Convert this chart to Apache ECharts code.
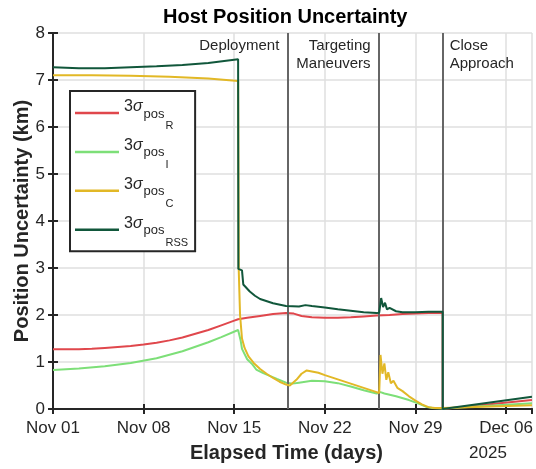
<!DOCTYPE html>
<html>
<head>
<meta charset="utf-8">
<script src="https://cdn.jsdelivr.net/npm/echarts@6/dist/echarts.min.js"></script>
<style>
html,body{margin:0;padding:0;background:#fff}
#chart{width:536px;height:469px}
</style>
</head>
<body>
<div id="chart"></div>
<script>
// days elapsed since Nov 01 2025
var tickLabels = ['Nov 01', 'Nov 08', 'Nov 15', 'Nov 22', 'Nov 29', 'Dec 06'];
var seriesNames = ['R', 'I', 'C', 'RSS'];
var seriesColors = ['#e0474c', '#7ddf78', '#e2b826', '#11573b'];

// phase boundaries (days)
var phaseDays = [18.1, 25.15, 30.1];
var phaseText = ['Deployment', 'Targeting\nManeuvers', 'Close\nApproach'];

var radial = [[0,1.27],[1,1.27],[2,1.27],[3,1.28],[4,1.30],[5,1.32],[6,1.34],[7,1.37],[8,1.41],
  [9,1.46],[10,1.52],[11,1.60],[12,1.68],[13,1.78],[14,1.88],[14.3,1.91],[15,1.94],[16,1.98],
  [17,2.02],[18,2.04],[18.6,2.03],[19.2,1.98],[20,1.95],[21,1.94],[22,1.94],[23,1.95],[24,1.97],
  [25,1.99],[26,2.00],[27,2.02],[28,2.03],[29,2.04],[30.1,2.05],[30.1,0],[37,0.19]];

var intrack = [[0,0.83],[2,0.86],[4,0.91],[6,0.98],[8,1.08],[10,1.23],[12,1.42],[13,1.53],
  [14.3,1.68],[14.5,1.45],[14.6,1.28],[15,1.06],[15.4,0.95],[15.7,0.84],[16.2,0.77],[16.7,0.71],
  [17.3,0.64],[18,0.56],[18.5,0.54],[19,0.56],[19.5,0.58],[20,0.60],[21,0.59],[22,0.55],[23,0.48],
  [24,0.40],[25,0.33],[25.3,0.36],[25.6,0.33],[26.5,0.27],[27.5,0.19],[28.2,0.12],[28.8,0.05],
  [29.3,0.02],[30.1,0.01],[30.1,0],[37,0.12]];

var crosstrack = [[0,7.10],[3,7.10],[6,7.09],[9,7.07],[12,7.03],[14.3,6.98],[14.35,2.95],[14.45,2.0],
  [14.6,1.5],[14.8,1.3],[15.1,1.12],[15.5,0.98],[16,0.85],[16.5,0.75],[17,0.66],[17.5,0.58],[18,0.52],
  [18.3,0.50],[18.8,0.62],[19.2,0.75],[19.6,0.82],[20,0.80],[20.5,0.77],[21,0.72],[22,0.63],[23,0.54],
  [24,0.45],[25,0.36],[25.2,0.34],[25.3,1.15],[25.45,0.75],[25.6,0.97],[25.75,0.62],[25.9,0.78],
  [26.1,0.55],[26.3,0.60],[26.6,0.45],[27,0.38],[27.5,0.27],[28,0.18],[28.5,0.10],[29,0.04],
  [29.5,0.02],[30.1,0.02],[30.1,0],[37,0.08]];

var rss = [[0,7.27],[2,7.25],[4,7.25],[6,7.27],[8,7.29],[10,7.32],[12,7.36],[14.3,7.44],[14.32,2.98],
  [14.6,2.95],[14.7,2.65],[15.2,2.50],[15.6,2.41],[16,2.34],[17,2.25],[18,2.19],[19,2.18],[19.5,2.21],
  [20,2.19],[21,2.16],[22,2.12],[23,2.09],[24,2.06],[25,2.04],[25.2,2.05],[25.35,2.36],[25.5,2.17],
  [25.65,2.26],[25.8,2.12],[26,2.15],[26.5,2.08],[27,2.06],[28,2.06],[29,2.07],[30.1,2.07],[30.1,0],
  [37,0.26]];

var font = 'Liberation Sans, Arial, Helvetica, sans-serif';
var ink = '#262626';

var chart = echarts.init(document.getElementById('chart'));

function lineSeries(i, data) {
    return {
        name: seriesNames[i],
        type: 'line',
        data: data,
        showSymbol: false,
        symbol: 'none',
        color: seriesColors[i],
        lineStyle: {width: 2, color: seriesColors[i]},
        z: 3 + i
    };
}

var option = {
    animation: false,
    backgroundColor: '#fff',
    textStyle: {fontFamily: font, color: ink},
    title: {
        text: 'Host Position Uncertainty',
        left: 163, top: 7, padding: 0,
        textStyle: {fontFamily: font, fontSize: 20, fontWeight: 'bold', color: '#000'}
    },
    grid: {left: 53, right: 2, top: 33, bottom: 60, containLabel: false},
    legend: {
        orient: 'vertical',
        left: 70, top: 91,
        icon: 'rect',
        itemWidth: 44, itemHeight: 2.5,
        itemGap: 6.4,
        padding: [8, 7, 3, 5],
        backgroundColor: '#fff',
        borderColor: ink, borderWidth: 2,
        data: seriesNames,
        formatter: function (name) {
            return '{n|3}{s|σ}{p|pos}{q|' + name + '}';
        },
        textStyle: {
            fontFamily: font, color: ink,
            rich: {
                n: {fontFamily: font, fontSize: 16, color: ink, padding: [0, 0, 12, 0]},
                s: {fontFamily: font, fontSize: 16, fontStyle: 'italic', color: ink, padding: [0, 0, 12, 0]},
                p: {fontFamily: font, fontSize: 13, color: ink, padding: [2, 1, 0, 1]},
                q: {fontFamily: font, fontSize: 11, color: ink, padding: [26, 0, 0, 0]}
            }
        }
    },
    xAxis: [{
        type: 'value', min: 0, max: 37, interval: 7,
        name: 'Elapsed Time (days)', nameLocation: 'middle', nameGap: 34,
        nameMoveOverlap: false,
        nameTextStyle: {fontFamily: font, fontSize: 20, fontWeight: 'bold', color: ink, padding: [0, 12, 0, 0]},
        axisLine: {lineStyle: {color: ink, width: 2}},
        axisTick: {inside: true, length: 5, lineStyle: {color: ink, width: 2}},
        axisLabel: {
            margin: 11, fontFamily: font, fontSize: 17, color: ink, showMaxLabel: false,
            formatter: function (v) {
                var i = Math.round(v / 7);
                return (Math.abs(v - i * 7) < 1e-6 && tickLabels[i]) ? tickLabels[i] : '';
            }
        },
        splitLine: {show: true, lineStyle: {color: '#dfdfdf', width: 1.5}}
    }, {
        type: 'value', min: 0, max: 37, interval: 7, position: 'top',
        axisLine: {lineStyle: {color: ink, width: 2}},
        axisTick: {inside: true, length: 5, lineStyle: {color: ink, width: 2}},
        axisLabel: {show: false},
        splitLine: {show: false}
    }],
    yAxis: [{
        type: 'value', min: 0, max: 8, interval: 1,
        name: 'Position Uncertainty (km)', nameLocation: 'middle', nameGap: 21,
        nameMoveOverlap: false,
        nameTextStyle: {fontFamily: font, fontSize: 20, fontWeight: 'bold', color: ink},
        axisLine: {show: true, lineStyle: {color: ink, width: 2}},
        axisTick: {show: true, inside: true, length: 5, lineStyle: {color: ink, width: 2}},
        axisLabel: {margin: 8, fontFamily: font, fontSize: 17, color: ink},
        splitLine: {show: true, lineStyle: {color: '#dfdfdf', width: 1.5}}
    }, {
        type: 'value', min: 0, max: 8, interval: 1, position: 'right',
        axisLine: {show: true, lineStyle: {color: ink, width: 2}},
        axisTick: {show: true, inside: true, length: 5, lineStyle: {color: ink, width: 2}},
        axisLabel: {show: false},
        splitLine: {show: false}
    }],
    series: [
        {
            name: 'phases', type: 'line', data: [], z: 2,
            markLine: {
                silent: true, symbol: 'none', animation: false,
                label: {show: false},
                lineStyle: {color: '#666666', width: 2, type: 'solid'},
                data: phaseDays.map(function (d) { return {xAxis: d}; })
            }
        },
        lineSeries(0, radial),
        lineSeries(1, intrack),
        lineSeries(2, crosstrack),
        lineSeries(3, rss)
    ]
};

chart.setOption(option);

// phase labels and year, placed through the axis scale
var texts = [];
phaseDays.forEach(function (d, i) {
    var p = chart.convertToPixel({gridIndex: 0}, [d, 8]);
    var leftSide = i < 2;
    texts.push({
        type: 'text',
        x: leftSide ? p[0] - 8 : p[0] + 7,
        y: p[1] + 4,
        style: {
            text: phaseText[i], fill: ink, font: '15px ' + font,
            align: leftSide ? 'right' : 'left', verticalAlign: 'top', lineHeight: 18
        },
        z: 10
    });
});
var yr = chart.convertToPixel({gridIndex: 0}, [35, 0]);
texts.push({
    type: 'text', x: yr[0] - 37, y: yr[1] + 36,
    style: {text: '2025', fill: ink, font: '17px ' + font, align: 'left', verticalAlign: 'top'}
});
chart.setOption({graphic: texts});
</script>
</body>
</html>
